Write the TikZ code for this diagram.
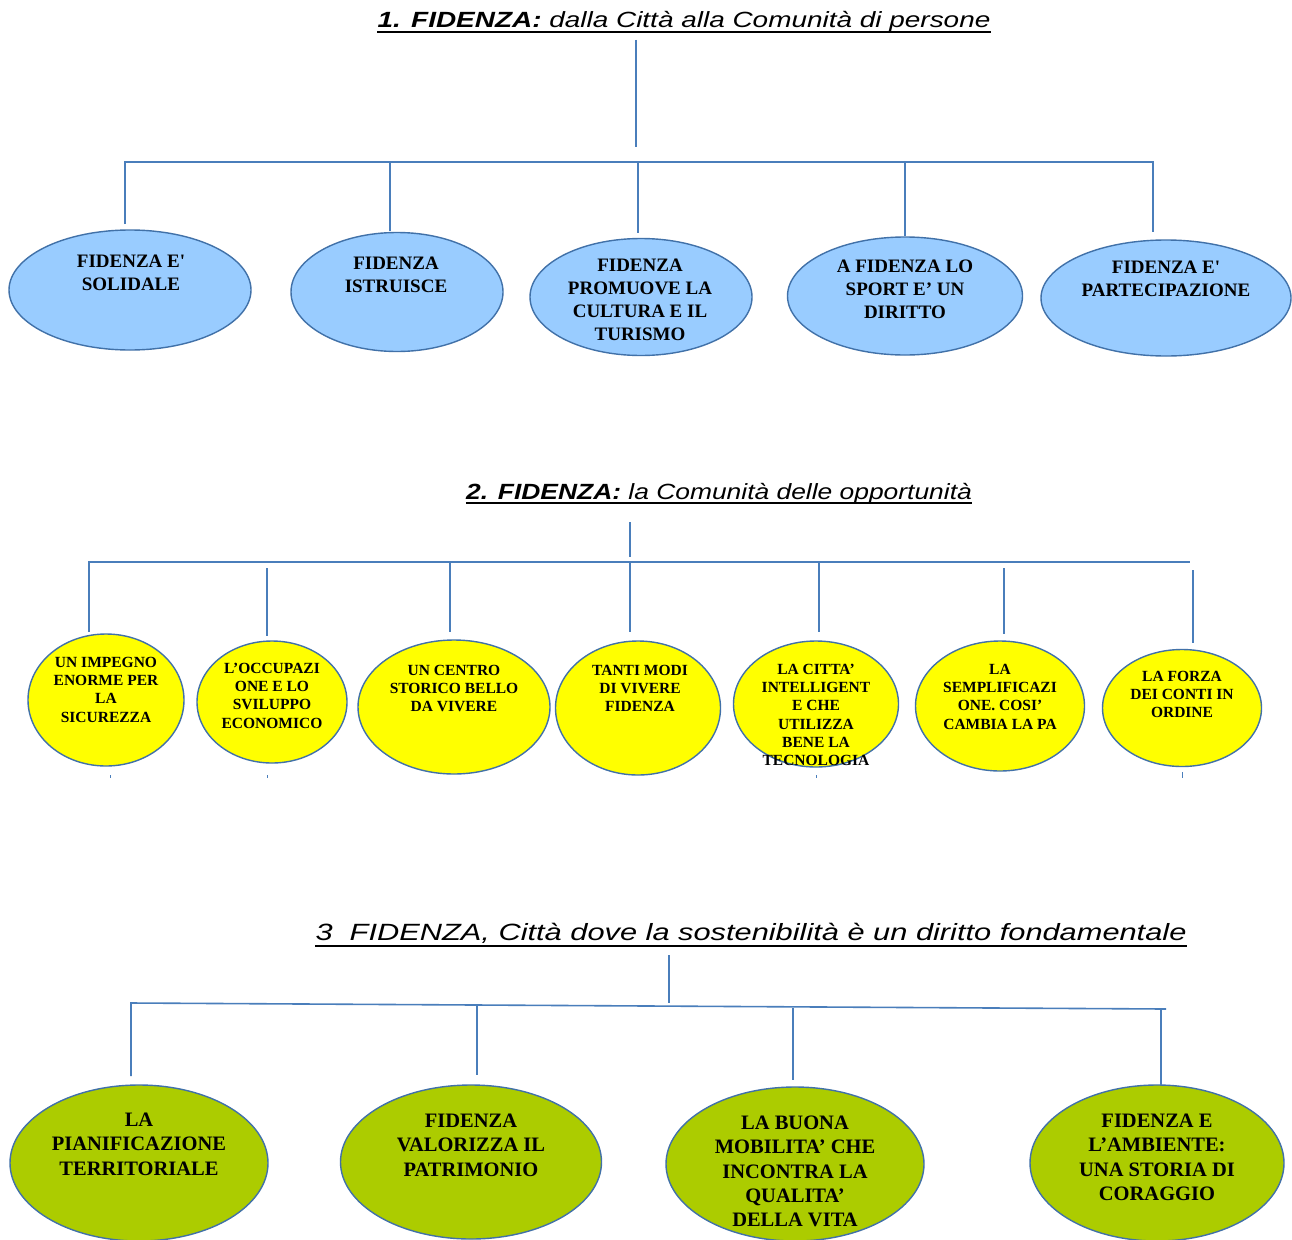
\documentclass[tikz,border=0pt]{standalone}
\usepackage{fontspec}
\setmainfont{Liberation Serif}
\newfontfamily\titlefonta{Liberation Sans}[FakeStretch=1.27]
\newfontfamily\titlefontb{Liberation Sans}[FakeStretch=1.2]
\newfontfamily\titlefontc{Liberation Sans}[FakeStretch=1.31]
\usetikzlibrary{shapes.geometric}
\definecolor{linecol}{RGB}{74,126,187}
\definecolor{edgecol}{RGB}{65,113,168}
\definecolor{blufill}{RGB}{153,204,255}
\definecolor{yelfill}{RGB}{255,255,0}
\definecolor{grnfill}{RGB}{172,204,0}
\newcommand{\sq}{\textquotesingle}
\tikzset{
  conn/.style={draw=linecol, line width=1.6pt},
  ell/.style={ellipse, draw=edgecol, line width=1.4pt, inner sep=0pt},
  ttl/.style={anchor=base, inner sep=0pt},
  uline/.style={draw=black, line width=1.2pt},
  txa/.style={font=\bfseries\fontsize{19}{23}\selectfont, align=center, anchor=north, inner sep=0pt},
  txb/.style={font=\bfseries\fontsize{15.5}{18.3}\selectfont, align=center, anchor=north, inner sep=0pt},
  txc/.style={font=\bfseries\fontsize{20.5}{24.2}\selectfont, align=center, anchor=north, inner sep=0pt},
}
\begin{document}
\begin{tikzpicture}[x=1pt,y=-1pt]
\useasboundingbox[fill=white] (0,0) rectangle (1292,1239);

% ===== Section 1 =====
\node[ttl, font=\titlefonta\itshape\fontsize{22}{26}\selectfont] (title1) at (684,28) {\bfseries 1. FIDENZA:\mdseries{} dalla Città alla Comunità di persone};
\draw[uline] ([yshift=-4pt]title1.base west) -- ([yshift=-4pt]title1.base east);

\node[ell, fill=blufill, minimum width=242, minimum height=120] (a1) at (130,290) {};
\node[ell, fill=blufill, minimum width=212, minimum height=119] (a2) at (397,292) {};
\node[ell, fill=blufill, minimum width=222, minimum height=117] (a3) at (641,297) {};
\node[ell, fill=blufill, minimum width=235, minimum height=118] (a4) at (905,296) {};
\node[ell, fill=blufill, minimum width=250, minimum height=116] (a5) at (1166,298) {};

\node[txa] (ta1) at (131,254.5) {FIDENZA E\sq\\SOLIDALE};
\node[txa] (ta2) at (396,256.5) {FIDENZA\\ISTRUISCE};
\node[txa] (ta3) at (640,258.5) {FIDENZA\\PROMUOVE LA\\CULTURA E IL\\TURISMO};
\node[txa] (ta4) at (905,259.5) {A FIDENZA LO\\SPORT E’ UN\\DIRITTO};
\node[txa] (ta5) at (1166,260.5) {FIDENZA E\sq\\PARTECIPAZIONE};

\coordinate (r1top) at (636,40);
\coordinate (r1bot) at (636,147);
\coordinate (r1l) at (125,162);
\coordinate (r1r) at (1153,162);
\draw[conn] (r1top) -- (r1bot);
\draw[conn] (125,224) -- (r1l) -- (r1r) -- (1153,232);
\coordinate (d12) at (390,162);
\coordinate (d13) at (638,162);
\coordinate (d14) at (905,162);
\draw[conn] (d12) -- (390,231);
\draw[conn] (d13) -- (638,233);
\draw[conn] (d14) -- (905,236);

% ===== Section 2 =====
\node[ttl, font=\titlefontb\itshape\fontsize{22}{26}\selectfont] (title2) at (719,499) {\bfseries 2. FIDENZA:\mdseries{} la Comunità delle opportunità};
\draw[uline] ([yshift=-4pt]title2.base west) -- ([yshift=-4pt]title2.base east);

\node[ell, fill=yelfill, minimum width=156, minimum height=132] (b1) at (106,700) {};
\node[ell, fill=yelfill, minimum width=150, minimum height=122] (b2) at (272,702) {};
\node[ell, fill=yelfill, minimum width=192, minimum height=134] (b3) at (454,707) {};
\node[ell, fill=yelfill, minimum width=165, minimum height=134] (b4) at (638,708) {};
\node[ell, fill=yelfill, minimum width=165, minimum height=126] (b5) at (816,704) {};
\node[ell, fill=yelfill, minimum width=169, minimum height=130] (b6) at (1000,706) {};
\node[ell, fill=yelfill, minimum width=159, minimum height=117] (b7) at (1182,708) {};

\node[txb] (tb1) at (106,656.8) {UN IMPEGNO\\ENORME PER\\LA\\SICUREZZA};
\node[txb] (tb2) at (272,662.8) {L’OCCUPAZI\\ONE E LO\\SVILUPPO\\ECONOMICO};
\node[txb] (tb3) at (454,664.8) {UN CENTRO\\STORICO BELLO\\DA VIVERE};
\node[txb] (tb4) at (640,664.8) {TANTI MODI\\DI VIVERE\\FIDENZA};
\node[txb] (tb5) at (816,663.8) {LA CITTA’\\INTELLIGENT\\E CHE\\UTILIZZA\\BENE LA\\TECNOLOGIA};
\node[txb] (tb6) at (1000,663.8) {LA\\SEMPLIFICAZI\\ONE. COSI’\\CAMBIA LA PA};
\node[txb] (tb7) at (1182,670.8) {LA FORZA\\DEI CONTI IN\\ORDINE};

\coordinate (r2top) at (630,522);
\coordinate (r2bot) at (630,557);
\coordinate (r2l) at (89,562);
\coordinate (r2r) at (1190,562);
\draw[conn] (r2top) -- (r2bot);
\draw[conn] (89,632) -- (r2l) -- (r2r);
\draw[conn] (267,568) -- (267,636);
\draw[conn] (450,562) -- (450,632);
\draw[conn] (630,562) -- (630,632);
\draw[conn] (819,562) -- (819,632);
\draw[conn] (1004,568) -- (1004,634);
\draw[conn] (1193,570) -- (1193,643);
% small ticks under the ellipses
\draw[conn, line width=1pt] (110,775) -- (110,778);
\draw[conn, line width=1pt] (267,775) -- (267,778);
\draw[conn, line width=1pt] (816,775) -- (816,778);
\draw[conn, line width=1pt] (1182,772) -- (1182,778);

% ===== Section 3 =====
\node[ttl, font=\titlefontc\itshape\fontsize{23.5}{28}\selectfont] (title3) at (751,940) {3\ \ FIDENZA, Città dove la sostenibilità è un diritto fondamentale};
\draw[uline] ([yshift=-6pt]title3.base west) -- ([yshift=-6pt]title3.base east);

\node[ell, fill=grnfill, minimum width=258, minimum height=156] (c1) at (139,1163) {};
\node[ell, fill=grnfill, minimum width=261, minimum height=154] (c2) at (471,1162) {};
\node[ell, fill=grnfill, minimum width=258, minimum height=154] (c3) at (795,1164) {};
\node[ell, fill=grnfill, minimum width=254, minimum height=156] (c4) at (1157,1163) {};

\node[txc] (tc1) at (139,1113) {LA\\PIANIFICAZIONE\\TERRITORIALE};
\node[txc] (tc2) at (471,1114) {FIDENZA\\VALORIZZA IL\\PATRIMONIO};
\node[txc] (tc3) at (795,1116) {LA BUONA\\MOBILITA’ CHE\\INCONTRA LA\\QUALITA’\\DELLA VITA};
\node[txc] (tc4) at (1157,1114) {FIDENZA E\\L’AMBIENTE:\\UNA STORIA DI\\CORAGGIO};

\coordinate (r3top) at (669,955);
\coordinate (r3bot) at (669,1003);
\coordinate (r3l) at (131,1003);
\coordinate (r3r) at (1166,1009);
\draw[conn] (r3top) -- (r3bot);
\draw[conn] (131,1076) -- (r3l) -- (r3r);
\draw[conn] (477,1006) -- (477,1075);
\draw[conn] (793,1008) -- (793,1080);
\draw[conn] (1161,1009) -- (1161,1085);
\end{tikzpicture}
\end{document}
